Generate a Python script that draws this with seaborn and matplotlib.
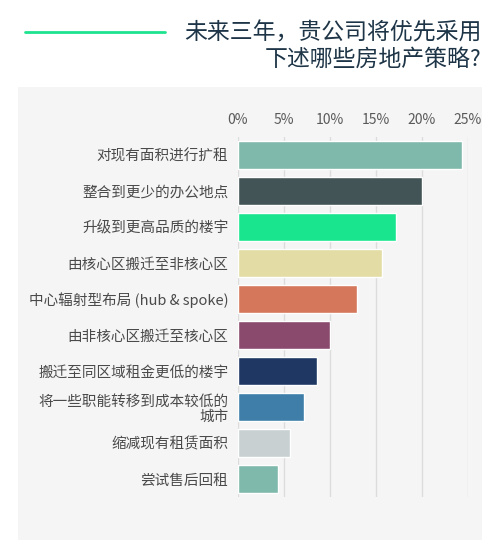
import matplotlib
matplotlib.use("Agg")
import matplotlib.pyplot as plt
import seaborn as sns
import pandas as pd
from matplotlib.patches import Rectangle
from matplotlib.lines import Line2D
from matplotlib.ticker import FuncFormatter

categories = [
    "对现有面积进行扩租",
    "整合到更少的办公地点",
    "升级到更高品质的楼宇",
    "由核心区搬迁至非核心区",
    "中心辐射型布局 (hub & spoke)",
    "由非核心区搬迁至核心区",
    "搬迁至同区域租金更低的楼宇",
    "将一些职能转移到成本较低的\n城市",
    "缩减现有租赁面积",
    "尝试售后回租",
]
values = [24.3, 20.0, 17.2, 15.7, 12.9, 10.0, 8.6, 7.2, 5.7, 4.3]
colors = ["#7fb9ab", "#435457", "#19e58e", "#e3dda5", "#d4775b",
          "#8a4a6e", "#1e3763", "#3e7ea8", "#c8d0d1", "#7fb9ab"]
xticks = [0, 5, 10, 15, 20, 25]
title_lines = ["未来三年，贵公司将优先采用", "下述哪些房地产策略?"]

sns.set_style("white")
plt.rcParams["font.family"] = ["Noto Sans CJK SC", "DejaVu Sans"]

df = pd.DataFrame({"strategy": categories, "pct": values})

fig = plt.figure(figsize=(5, 5.46), dpi=100)
W, H = 500, 546

# grey panel behind the chart
fig.patches.append(Rectangle((18 / W, 1 - 540 / H), (482 - 18) / W, (540 - 87) / H,
                             transform=fig.transFigure, facecolor="#f5f5f5",
                             edgecolor="none", zorder=-1))

# title and green rule
fig.lines.append(Line2D([25 / W, 165 / W], [1 - 32 / H, 1 - 32 / H],
                        transform=fig.transFigure, color="#1de38e", lw=2))
fig.text(482 / W, 1 - 33 / H, title_lines[0], ha="right", va="center",
         fontsize=16.5, color="#1d3547")
fig.text(482 / W, 1 - 59 / H, title_lines[1], ha="right", va="center",
         fontsize=16.5, color="#1d3547")

ax = fig.add_axes([238 / W, 1 - 497 / H, 230 / W, 360 / H])
ax.set_zorder(2)
ax.set_facecolor("none")
sns.barplot(data=df, y="strategy", x="pct", hue="strategy", palette=colors,
            saturation=1, orient="h", width=0.8, legend=False, ax=ax, zorder=3)

ax.set_xlim(0, 25)
ax.set_ylim(len(categories) - 0.5, -0.5)
ax.set_xticks(xticks)
ax.xaxis.set_major_formatter(FuncFormatter(lambda v, p: f"{int(v)}%"))
ax.xaxis.tick_top()
ax.tick_params(axis="x", length=0, pad=7, labelsize=10, labelcolor="#5a5a5a")
ax.tick_params(axis="y", length=0, pad=7, labelsize=10.5, labelcolor="#4a4a4a")
for lab in ax.get_yticklabels():
    lab.set_linespacing(1.1)
ax.grid(axis="x", color="#dcdcdc", lw=1, zorder=0)
ax.set_xlabel("")
ax.set_ylabel("")
for s in ax.spines.values():
    s.set_visible(False)

fig.savefig("out.png", dpi=100)
